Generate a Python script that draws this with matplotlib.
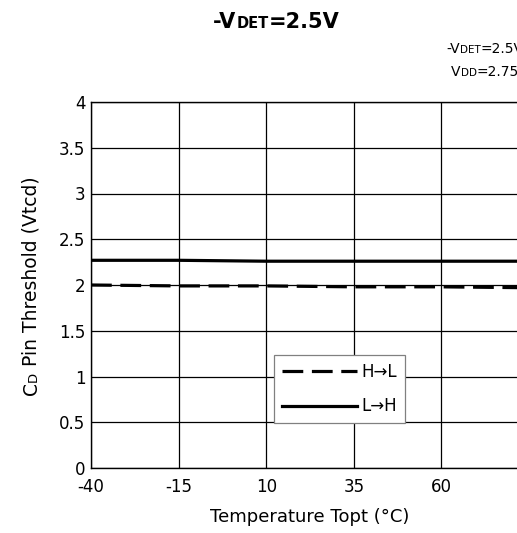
import matplotlib
matplotlib.use('Agg')
import matplotlib.pyplot as plt

plt.rcParams['font.family'] = ['DejaVu Sans']
plt.rcParams['axes.unicode_minus'] = False

temps = [-40, -15, 10, 35, 60, 85]
h_to_l = [2.00, 1.99, 1.99, 1.98, 1.98, 1.97]
l_to_h = [2.27, 2.27, 2.26, 2.26, 2.26, 2.26]

x_ticks = [-40, -15, 10, 35, 60, 85]
y_ticks = [0, 0.5, 1, 1.5, 2, 2.5, 3, 3.5, 4]
y_tick_labels = ['0', '0.5', '1', '1.5', '2', '2.5', '3', '3.5', '4']

W, H = 517, 533
fig = plt.figure(figsize=(W / 100, H / 100), dpi=100)
ax = fig.add_axes([91 / W, 65 / H, 438 / W, 366 / H])

ax.plot(temps, l_to_h, color='black', lw=2.3, label='L\u2192H', zorder=3)
ax.plot(temps, h_to_l, color='black', lw=2.3, dashes=(6.5, 2.7), label='H\u2192L', zorder=3)

ax.set_xlim(-40, 85)
ax.set_ylim(0, 4)
ax.set_xticks(x_ticks)
ax.set_yticks(y_ticks)
ax.set_yticklabels(y_tick_labels)
ax.tick_params(length=0, labelsize=12)
ax.tick_params(axis='x', pad=7.5)
ax.tick_params(axis='y', pad=4)
ax.grid(True, color='black', lw=0.9)
for s in ax.spines.values():
    s.set_linewidth(1.0)
ax.set_xlabel('Temperature Topt (\u00b0C)', fontsize=13, labelpad=8)

handles, labels = ax.get_legend_handles_labels()
leg = ax.legend(handles[::-1], labels[::-1], loc='lower left',
                bbox_to_anchor=(0.418, 0.123), borderaxespad=0, fontsize=12,
                handlelength=4.5, labelspacing=1.0, handletextpad=0.3,
                fancybox=False, edgecolor='#808080', framealpha=1,
                borderpad=0.45)
leg.get_frame().set_linewidth(0.9)

renderer = fig.canvas.get_renderer()


def rich_text(x, y, parts, rotation=0, weight='normal', align='left'):
    # x, y in pixels from bottom-left; pieces laid along the baseline
    texts, sizes = [], []
    for s, size in parts:
        t = fig.text(0, 0, s, fontsize=size, fontweight=weight, rotation=rotation,
                     rotation_mode='anchor', ha='left', va='baseline')
        bb = t.get_window_extent(renderer)
        texts.append(t)
        sizes.append(bb.height if rotation == 90 else bb.width)
    pos = -sum(sizes) / 2 if align == 'center' else 0.0
    for t, d in zip(texts, sizes):
        if rotation == 90:
            t.set_position((x / W, (y + pos) / H))
        else:
            t.set_position(((x + pos) / W, y / H))
        pos += d


rich_text(276, H - 28, [('-V', 15), ('DET', 10.5), ('=2.5V', 15)], weight='bold', align='center')
rich_text(446, H - 53, [('-V', 10), ('DET', 7.5), ('=2.5V', 10)])
rich_text(451, H - 76, [('V', 10), ('DD', 7.5), ('=2.75V', 10)])
rich_text(36.5, H - 286, [('C', 13.5), ('D', 9.5), (' Pin Threshold (Vtcd)', 13.5)], rotation=90, align='center')

fig.savefig('out.png', dpi=100)
